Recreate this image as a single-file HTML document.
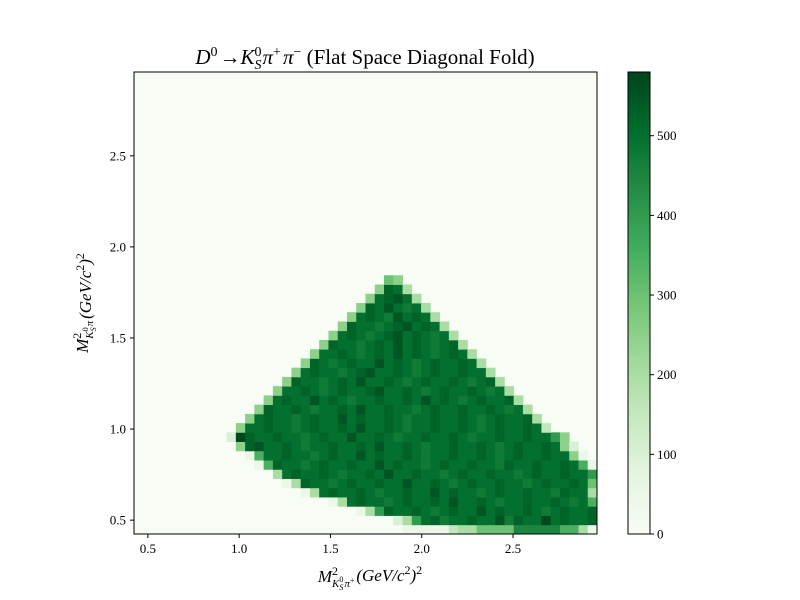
<!DOCTYPE html>
<html><head><meta charset="utf-8"><style>
body{margin:0;background:#fff;}
svg{display:block;font-family:"Liberation Serif",serif;}
</style></head><body>
<svg id="chart" width="800" height="600" xmlns="http://www.w3.org/2000/svg">
<defs>
<linearGradient id="greens" x1="0" y1="1" x2="0" y2="0">
<stop offset="0" stop-color="#f7fcf5"/><stop offset="0.125" stop-color="#e5f5e0"/><stop offset="0.25" stop-color="#c7e9c0"/><stop offset="0.375" stop-color="#a1d99b"/><stop offset="0.5" stop-color="#74c476"/><stop offset="0.625" stop-color="#41ab5d"/><stop offset="0.75" stop-color="#238b45"/><stop offset="0.875" stop-color="#006d2c"/><stop offset="1" stop-color="#00441b"/>
</linearGradient>
</defs>
<rect x="134" y="72" width="463" height="462" fill="#f7fcf5"/>
<g id="cells"></g>
<rect x="134" y="72" width="463" height="462" fill="none" stroke="#000" stroke-width="1"/>
<g id="xaxis"></g>
<g id="yaxis"></g>
<text x="365" y="64" text-anchor="middle" font-size="21"><tspan font-style="italic">D</tspan><tspan dy="-8" font-size="14">0</tspan><tspan dx="2" dy="8">→</tspan><tspan font-style="italic">K</tspan><tspan dy="-8" font-size="14">0</tspan><tspan dx="-7" dy="13" font-size="14" font-style="italic">S</tspan><tspan dx="1" dy="-5" font-style="italic">π</tspan><tspan dy="-8" font-size="14">+</tspan><tspan dx="2" dy="8" font-style="italic">π</tspan><tspan dy="-8" font-size="14">−</tspan><tspan dy="8"> (Flat Space Diagonal Fold)</tspan></text>
<text x="370" y="582" text-anchor="middle" font-size="17"><tspan font-style="italic">M</tspan><tspan dy="-7" font-size="12">2</tspan><tspan dx="-6" dy="12" font-size="11" font-style="italic">K</tspan><tspan dy="-5" font-size="8">0</tspan><tspan dx="-4" dy="8" font-size="8" font-style="italic">S</tspan><tspan dx="1" dy="-3" font-size="11" font-style="italic">π</tspan><tspan dy="-4" font-size="8">+</tspan><tspan dx="2" dy="-2" font-style="italic">(GeV/c</tspan><tspan dy="-7" font-size="12">2</tspan><tspan dy="7" font-style="italic">)</tspan><tspan dy="-7" font-size="12">2</tspan></text>
<text transform="translate(88,303) rotate(-90)" text-anchor="middle" font-size="17"><tspan font-style="italic">M</tspan><tspan dy="-7" font-size="12">2</tspan><tspan dx="-6" dy="12" font-size="11" font-style="italic">K</tspan><tspan dy="-5" font-size="8">0</tspan><tspan dx="-4" dy="8" font-size="8" font-style="italic">S</tspan><tspan dx="1" dy="-3" font-size="11" font-style="italic">π</tspan><tspan dx="2" dy="-2" font-style="italic">(GeV/c</tspan><tspan dy="-7" font-size="12">2</tspan><tspan dy="7" font-style="italic">)</tspan><tspan dy="-7" font-size="12">2</tspan></text>
<rect x="628" y="72" width="22" height="462" fill="url(#greens)" stroke="#000" stroke-width="1"/>
<g id="cbaxis"></g>
</svg>
<script>
const xTicks = [0.5, 1.0, 1.5, 2.0, 2.5];
const yTicks = [0.5, 1.0, 1.5, 2.0, 2.5];
const cbTicks = [0, 100, 200, 300, 400, 500];
const binRange = [0.424, 2.96];
const nBins = [50];
const vMax = [580];
const levelChars = ".0123456789abcde";
const levelValues = [0, 10, 50, 100, 150, 200, 250, 300, 350, 400, 450, 475, 500, 525, 550, 575];
const rowStarts = [29,28,24,21,18,16,15,13,12,11,10,11,12,13,14,15,16,17,18,19,20,21,22,23,24,25,26,27];
const rowLevels = [
"111113446666999997741",
"248bcabbcbbdacbbebcbbc",
"148cbbcbabcbbdbcbbcbabcbbc",
"14bcbbabcbbcbdbbcbabbcbbcbab7",
"14bcbbcbabbcbbdbcbbabcbbcbbacbb4",
"14cbbabcbbcbbdbbcbabcbbcbbabcbbcb6",
"4bcbbcbabbcbdbbcbbabcbbcbbabcbbcbb8",
"17cbbabcbbcbbdbcbbabcbbcbbacbbcbbcb71",
"17bbcbbabcbbdbcbbcbabbcbbcbabcbbcbb51",
"5cdbbcbabbcbbcbdbbcbabbcbbcbabcbbcb52",
"2ecbbcbbabcbbdbbcbabbcbbcbabbcbbcbb85",
"5bbcbbabcbbcbdbbcbabbcbbcbabcbbcb3",
"5bcbbabcbbdbcbbcbabbcbbcbabcbbc4",
"5cbbcbabbcbdbbcbbabcbbcbbcbab4",
"5bcbbdbcbabbcbbcbdbcbabcbbc4",
"5bbcbabcbbcdbbcbabcbbcbab4",
"5cbbabcbdbbcbabcbbcbabc4",
"5bcbbabcdbbcbabcbbcbb4",
"5cbabcbbdbcbabcbbcb4",
"5bbcbabcbdbcbabcb4",
"5cbbabcbdbcbabc4",
"5bcbabcdbcbab4",
"5cbbabcdbcb4",
"5bcbadbcb4",
"5cbdbab4",
"5bcdb4",
"5cb4",
"65"
];
const greensStops = [[247,252,245],[229,245,224],[199,233,192],[161,217,155],[116,196,118],[65,171,93],[35,139,69],[0,109,44],[0,68,27]];
function colorFor(v){
  let t=Math.max(0,Math.min(1,v/vMax[0]))*8; let i=Math.min(7,Math.floor(t)); let f=t-i;
  const a=greensStops[i], b=greensStops[i+1];
  return `rgb(${Math.round(a[0]+(b[0]-a[0])*f)},${Math.round(a[1]+(b[1]-a[1])*f)},${Math.round(a[2]+(b[2]-a[2])*f)})`;
}
const X0=134, X1=597, Y0=534, Y1=72;
function xScale(v){return X0+(v-binRange[0])/(binRange[1]-binRange[0])*(X1-X0);}
function yScale(v){return Y0-(v-binRange[0])/(binRange[1]-binRange[0])*(Y0-Y1);}
function cScale(v){return 534-v/vMax[0]*462;}
const NS="http://www.w3.org/2000/svg";
const bw=(binRange[1]-binRange[0])/nBins[0];
const cells=document.getElementById('cells');
rowLevels.forEach((s,r)=>{
  for(let k=0;k<s.length;k++){
    const v=levelValues[levelChars.indexOf(s[k])];
    if(!v) continue;
    const c=rowStarts[r]+k;
    const xa=xScale(binRange[0]+c*bw), xb=xScale(binRange[0]+(c+1)*bw);
    const ya=yScale(binRange[0]+(r+1)*bw), yb=yScale(binRange[0]+r*bw);
    const el=document.createElementNS(NS,'rect');
    el.setAttribute('x',xa);el.setAttribute('y',ya);
    el.setAttribute('width',xb-xa+0.4);el.setAttribute('height',yb-ya+0.4);
    el.setAttribute('fill',colorFor(v));
    
    
    cells.appendChild(el);
  }
});
function add(parent,tag,attrs,text){const e=document.createElementNS(NS,tag);for(const k in attrs)e.setAttribute(k,attrs[k]);if(text!==undefined)e.textContent=text;parent.appendChild(e);return e;}
const xa=document.getElementById('xaxis');
xTicks.forEach(t=>{const x=xScale(t);
  const l=add(xa,'line',{x1:x,x2:x,y1:534,y2:538,stroke:'#000'});
  
  
  const tx=add(xa,'text',{x:x,y:553,'text-anchor':'middle','font-size':13},t.toFixed(1));
  
  
});
const ya=document.getElementById('yaxis');
yTicks.forEach(t=>{const y=yScale(t);
  const l=add(ya,'line',{x1:130,x2:134,y1:y,y2:y,stroke:'#000'});
  
  
  const tx=add(ya,'text',{x:126,y:y+4.5,'text-anchor':'end','font-size':13},t.toFixed(1));
  
  
});
const cb=document.getElementById('cbaxis');
cbTicks.forEach(t=>{const y=cScale(t);
  const l=add(cb,'line',{x1:650,x2:654,y1:y,y2:y,stroke:'#000'});
  
  
  const tx=add(cb,'text',{x:657,y:y+4.5,'font-size':13},String(t));
  
  
});
</script>
</body></html>
